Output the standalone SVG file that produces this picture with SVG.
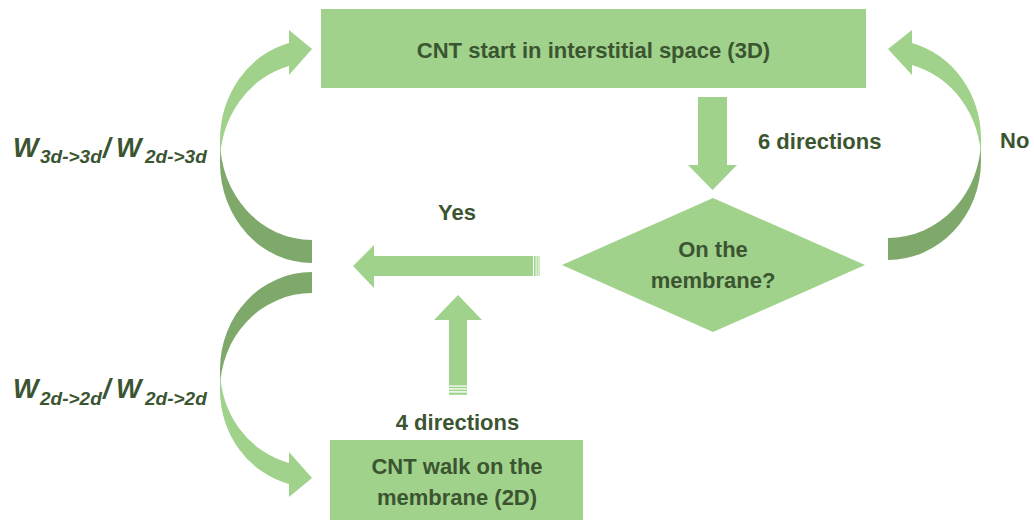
<svg xmlns="http://www.w3.org/2000/svg" width="1034" height="521" viewBox="0 0 1034 521">
<style>
.f{fill:#A0D28C}
.d{fill:#7EA96B}
.t{font-family:"Liberation Sans",Arial,sans-serif;font-weight:bold;font-size:22px;fill:#3B5531}
.c{text-anchor:middle}
.w{font-family:"Liberation Sans",Arial,sans-serif;font-weight:bold;font-style:italic;fill:#3B5531}
</style>
<rect width="1034" height="521" fill="#ffffff"/>
<g id="connectors">
  <!-- top-left curved arrow (back to 3D) -->
  <path class="d" d="M220,140 A92,100 0 0 0 312,240 L312,263 A92,100 0 0 1 220,163 Z"/>
  <path class="f" d="M289,43 A92,100 0 0 0 220,140 L220,163 A92,100 0 0 1 289,66 Z"/>
  <polygon class="f" points="289,30 312,49 289,75"/>
  <!-- bottom-left curved arrow (to 2D walk) -->
  <path class="d" d="M312,272 A92,97 0 0 0 220,369 L220,390 A92,97 0 0 1 312,293 Z"/>
  <path class="f" d="M220,369 A92,97 0 0 0 289,463 L289,484 A92,97 0 0 1 220,390 Z"/>
  <polygon class="f" points="289,452 312,478 289,497"/>
  <!-- right curved arrow (No) -->
  <path class="d" d="M981,139 A93,99 0 0 1 888,238 L888,260 A93,99 0 0 0 981,161 Z"/>
  <path class="f" d="M912,43 A93,99 0 0 1 981,139 L981,161 A93,99 0 0 0 912,65 Z"/>
  <polygon class="f" points="912,30 888,49 912,75"/>
  <!-- down arrow (6 directions) -->
  <polygon class="f" points="698,97 727,97 727,165 737,165 712.5,190 688,165 698,165"/>
  <!-- left striped arrow (Yes) -->
  <polygon class="f" points="353,266 374,245 374,256 533,256 533,276 374,276 374,288"/>
  <rect class="f" x="534" y="256" width="1.6" height="20"/>
  <rect class="f" x="536.6" y="256" width="1.1" height="20"/>
  <rect class="f" x="538.6" y="256" width="0.9" height="20"/>
  <!-- up striped arrow (4 directions) -->
  <polygon class="f" points="458,295 482,320 467,320 467,385.5 449,385.5 449,320 434,320"/>
  <rect class="f" x="449" y="386.7" width="18" height="1.6"/>
  <rect class="f" x="449" y="389.6" width="18" height="1.6"/>
  <rect class="f" x="449" y="392.6" width="18" height="2.2"/>
</g>
<g id="node-start">
  <rect class="f" x="321" y="9" width="545" height="79"/>
  <text class="t c" x="593.5" y="58">CNT start in interstitial space (3D)</text>
</g>
<g id="node-decision">
  <polygon class="f" points="713,198 865,265 713,332 562,265"/>
  <text class="t c" x="713" y="257">On the</text>
  <text class="t c" x="713" y="288">membrane?</text>
</g>
<g id="node-walk">
  <rect class="f" x="330" y="440" width="253" height="80"/>
  <text class="t c" x="457" y="474">CNT walk on the</text>
  <text class="t c" x="457" y="505">membrane (2D)</text>
</g>
<g id="labels">
  <text class="t" x="758" y="149">6 directions</text>
  <text class="t" x="1000" y="148">No</text>
  <text class="t c" x="457" y="220">Yes</text>
  <text class="t c" x="457.5" y="430">4 directions</text>
  <text class="w" y="157"><tspan x="13" font-size="27">W</tspan><tspan x="40" y="163" font-size="19">3d-&gt;3d</tspan><tspan x="103" y="157" font-size="27">/</tspan><tspan x="116" font-size="27">W</tspan><tspan x="145" y="163" font-size="19">2d-&gt;3d</tspan></text>
  <text class="w" y="398"><tspan x="13" font-size="27">W</tspan><tspan x="40" y="405" font-size="19">2d-&gt;2d</tspan><tspan x="103" y="398" font-size="27">/</tspan><tspan x="116" font-size="27">W</tspan><tspan x="145" y="405" font-size="19">2d-&gt;2d</tspan></text>
</g>
</svg>
